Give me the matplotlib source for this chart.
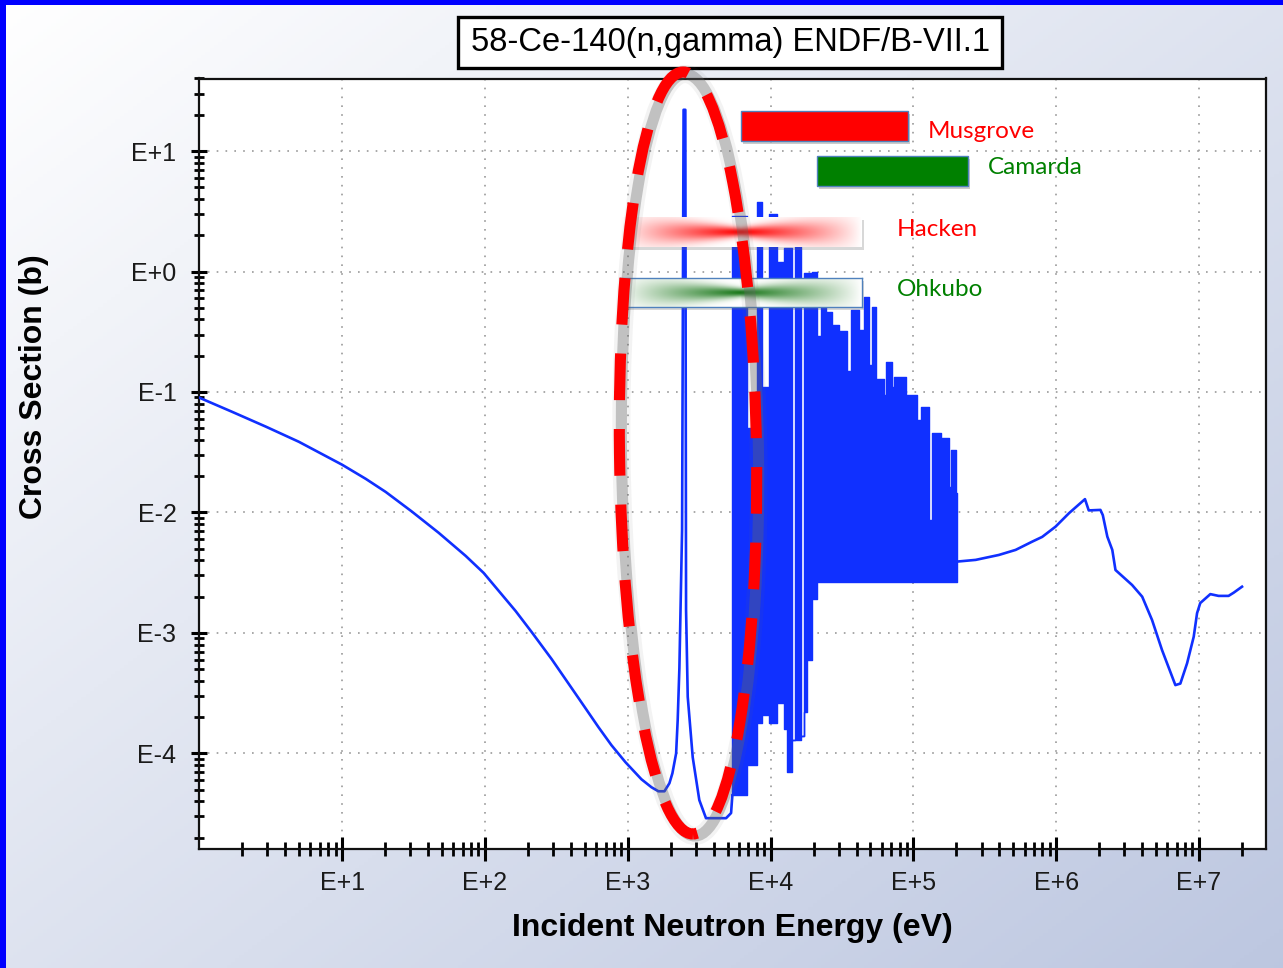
import numpy as np
import matplotlib.pyplot as plt
from matplotlib.patches import Rectangle, Ellipse
from matplotlib.transforms import IdentityTransform
from matplotlib.ticker import FixedLocator, LogLocator, FuncFormatter, NullFormatter

# ---- data (energy in eV, cross section in barns) ----
# smooth part up to the first resolved resonances (incl. the 2.5 keV one)
low_E = [1, 1.69, 2.93, 4.98, 10, 14.65, 20.2, 30.7, 47.5, 73.3, 97.9, 164, 212,
         293, 452, 624, 769, 964, 1247, 1465, 1640, 1806, 1957, 2054, 2181, 2237,
         2299, 2401, 2460, 2530, 2560, 2630, 2850, 3170, 3530, 4880, 5290, 5400]
low_xs = [0.0897, 0.0686, 0.0515, 0.0386, 0.0249, 0.0190, 0.0148, 0.0102, 6.77e-3,
          4.36e-3, 3.15e-3, 1.52e-3, 1.02e-3, 6.07e-4, 2.88e-4, 1.65e-4, 1.17e-4,
          8.45e-5, 6.1e-5, 5.24e-5, 4.85e-5, 4.85e-5, 5.65e-5, 6.84e-5, 1.0e-4,
          1.89e-4, 5.11e-4, 7.17e-3, 22.0, 22.0, 1.55e-3, 2.95e-4, 9.3e-5, 4.1e-5,
          2.9e-5, 2.9e-5, 3.2e-5, 4.5e-5]

# resonance forest: bin edges, upper and lower envelope per bin
forest_E = [5400, 6870, 8070, 8750, 9790, 11140, 12470, 13000, 14190, 14890,
            16400, 17220, 18000, 19590, 21230, 22650, 24550, 27000, 30200,
            34400, 36600, 41700, 45200, 49000, 51400, 54800, 62400, 64400,
            71000, 73300, 88800, 90200, 106000, 113000, 128500, 134800,
            156000, 169000, 177500, 183300, 198600, 202000]
forest_top = [2.9, 0.05, 3.75, 0.111, 2.98, 1.21, 1.58, 1.58, 1.3e-4, 1.61,
              1.4e-4, 0.98, 0.98, 1.0, 0.29, 0.51, 0.465, 0.36, 0.32, 0.148,
              0.48, 0.33, 0.61, 0.169, 0.51, 0.128, 0.095, 0.179, 0.111, 0.134,
              0.0567, 0.095, 0.0589, 0.0755, 0.0087, 0.046, 0.0417, 0.0417,
              0.0163, 0.0331, 0.0146]
forest_bot = [4.5e-5, 8e-5, 1.8e-4, 2.1e-4, 1.8e-4, 2.6e-4, 1.6e-4, 7e-5, 1.3e-4,
              1.3e-4, 1.4e-4, 2.2e-4, 6e-4, 1.9e-3, 2.65e-3, 2.65e-3, 2.65e-3,
              2.65e-3, 2.65e-3, 2.65e-3, 2.65e-3, 2.65e-3, 2.65e-3, 2.65e-3,
              2.65e-3, 2.65e-3, 2.65e-3, 2.65e-3, 2.65e-3, 2.65e-3, 2.65e-3,
              2.65e-3, 2.65e-3, 2.65e-3, 2.65e-3, 2.65e-3, 2.65e-3, 2.65e-3,
              2.65e-3, 2.65e-3, 2.65e-3]

# smooth part above the resonance region
high_E = [2.02e5, 2.73e5, 3.97e5, 5.2e5, 6.8e5, 7.98e5, 9.9e5, 1.23e6, 1.59e6,
          1.69e6, 2.04e6, 2.12e6, 2.28e6, 2.47e6, 2.60e6, 3.40e6, 4.0e6, 4.69e6,
          5.51e6, 6.83e6, 7.4e6, 8.25e6, 9.18e6, 9.69e6, 1.02e7, 1.20e7,
          1.37e7, 1.61e7, 1.75e7, 2.0e7]
high_xs = [3.91e-3, 4.04e-3, 4.44e-3, 4.89e-3, 5.73e-3, 6.27e-3, 7.63e-3,
           9.87e-3, 1.29e-2, 1.04e-2, 1.05e-2, 9.5e-3, 6.3e-3, 4.89e-3, 3.33e-3,
           2.50e-3, 2.0e-3, 1.28e-3, 7.2e-4, 3.69e-4, 3.8e-4, 5.6e-4, 9.3e-4,
           1.46e-3, 1.77e-3, 2.10e-3, 2.03e-3, 2.03e-3, 2.16e-3, 2.42e-3]

x_major = [1e1, 1e2, 1e3, 1e4, 1e5, 1e6, 1e7]
y_major = [1e-4, 1e-3, 1e-2, 1e-1, 1e0, 1e1]

BLUE = '#1030ff'
W, H = 1283, 968

fig = plt.figure(figsize=(W / 100, H / 100), dpi=100)

# slide-like background gradient
bg = fig.add_axes([0, 0, 1, 1], zorder=-10)
gx, gy = np.meshgrid(np.linspace(0, 1, 300), np.linspace(0, 1, 300))
t = ((gx + gy) / 2)[..., None]
img = np.array([1.0, 1.0, 1.0]) * (1 - t) + np.array([0.74, 0.78, 0.88]) * t
bg.imshow(img, extent=[0, 1, 0, 1], aspect='auto', origin='upper')
bg.axis('off')

ax = fig.add_axes([199.3 / W, 1 - 849.3 / H, (1265.7 - 199.3) / W, (849.3 - 78.5) / H])
ax.set_facecolor('white')

ax.plot(low_E, low_xs, color=BLUE, lw=1.9, zorder=3)
ax.fill_between(forest_E, forest_bot + forest_bot[-1:], forest_top + forest_top[-1:],
                step='post', facecolor=BLUE, edgecolor=BLUE, lw=1.0, zorder=3)
ax.plot(high_E, high_xs, color=BLUE, lw=1.9, zorder=3)

ax.set_xscale('log')
ax.set_yscale('log')
ax.set_xlim(1, 2.93e7)
ax.set_ylim(1.6e-5, 40)

fmt = FuncFormatter(lambda v, p: 'E%+d' % round(np.log10(v)))
ax.xaxis.set_major_locator(FixedLocator(x_major))
ax.yaxis.set_major_locator(FixedLocator(y_major))
ax.xaxis.set_minor_locator(LogLocator(base=10, subs=np.arange(2, 10), numticks=50))
ax.yaxis.set_minor_locator(LogLocator(base=10, subs=np.arange(2, 10), numticks=50))
ax.xaxis.set_major_formatter(fmt)
ax.yaxis.set_major_formatter(fmt)
ax.xaxis.set_minor_formatter(NullFormatter())
ax.yaxis.set_minor_formatter(NullFormatter())

ax.grid(which='major', color='#9a9a9a', lw=1.2, ls=(0, (1, 4.3)))
ax.tick_params(axis='x', which='major', direction='inout', length=17, width=2.2,
               pad=7, labelsize=18, labelcolor='#1a1a1a')
ax.tick_params(axis='x', which='minor', direction='inout', length=10, width=2)
ax.tick_params(axis='y', which='major', direction='inout', length=11, width=2.2,
               pad=11, labelsize=18, labelcolor='#1a1a1a')
ax.tick_params(axis='y', which='minor', direction='inout', length=6.5, width=2)
for lab in ax.get_xticklabels() + ax.get_yticklabels():
    lab.set_family('Liberation Sans')
for s in ax.spines.values():
    s.set_linewidth(1.6)
    s.set_color('#111111')

ax.set_xlabel('Incident Neutron Energy (eV)', fontsize=23, fontweight='bold',
              family='Liberation Sans')
ax.set_ylabel('Cross Section (b)', fontsize=23, fontweight='bold',
              family='Liberation Sans')
ax.xaxis.set_label_coords(0.5, -0.083)
ax.yaxis.set_label_coords(-0.141, 0.6)


def px_rect(x0, y0, x1, y1, **kw):
    return Rectangle((x0, H - y1), x1 - x0, y1 - y0, transform=IdentityTransform(), **kw)


# blue slide border (top and left)
fig.add_artist(px_rect(0, 0, W, 5, color='#0000ff', lw=0, zorder=10))
fig.add_artist(px_rect(0, 0, 6, H, color='#0000ff', lw=0, zorder=10))

# title box
fig.add_artist(px_rect(458, 17, 1002, 68, facecolor='white', edgecolor='black', lw=2.4, zorder=4))
fig.text(731 / W, 1 - 43 / H, '58-Ce-140(n,gamma) ENDF/B-VII.1', ha='center', va='center',
         fontsize=23.5, family='Liberation Sans', color='black', zorder=5)

# measurement bars
for (x0, y0, x1, y1, col) in [(741, 111, 908, 141, '#ff0000'), (817, 156, 968, 186, '#008000')]:
    fig.add_artist(px_rect(x0 + 2, y0 + 3, x1 + 2, y1 + 3, facecolor='#555555', alpha=0.3, lw=0, zorder=4))
    fig.add_artist(px_rect(x0, y0, x1, y1, facecolor=col, edgecolor='#4f81bd', lw=1.0, zorder=4))


def grad_bar(x0, y0, x1, y1, rgb, border):
    fig.add_artist(px_rect(x0 + 2, y0 + 3, x1 + 2, y1 + 3, facecolor='#666666', alpha=0.25, lw=0, zorder=4))
    bax = fig.add_axes([x0 / W, 1 - y1 / H, (x1 - x0) / W, (y1 - y0) / H], zorder=4)
    u, v = np.meshgrid(np.linspace(-1, 1, 240), np.linspace(-1, 1, 40))
    s = 0.3 + 0.9 * np.abs(u)
    a = (1 - np.abs(u)) ** 0.9 * np.exp(-(v / s) ** 2)
    a = a[..., None]
    im = np.ones(3) * (1 - a) + np.array(rgb) * a
    bax.imshow(im, aspect='auto', extent=[0, 1, 0, 1])
    bax.set_xticks([])
    bax.set_yticks([])
    for sp in bax.spines.values():
        sp.set_visible(border)
        sp.set_color('#4f81bd')
        sp.set_linewidth(1.0)


grad_bar(620, 217, 862, 247, (1.0, 0.0, 0.0), False)
grad_bar(620, 278, 862, 307, (0.1, 0.47, 0.1), True)

for (x, y, txt, col) in [(928, 131, 'Musgrove', '#ff0000'), (988, 168, 'Camarda', '#008000'),
                         (897, 229, 'Hacken', '#ff0000'), (897, 289, 'Ohkubo', '#008000')]:
    fig.text(x / W, 1 - y / H, txt, color=col, fontsize=17.5, family='Lato',
             ha='left', va='center', zorder=6)

# highlighted region: dashed red ellipse with soft shadow
for lw_, al in [(13, 0.08), (8, 0.35)]:
    fig.add_artist(Ellipse((690, H - 455), 137, 762, angle=0.75, fill=False,
                           edgecolor='#666666', lw=lw_, alpha=al,
                           transform=IdentityTransform(), zorder=7))
fig.add_artist(Ellipse((688, H - 453), 137, 762, angle=0.75, fill=False,
                       edgecolor='#ff0000', lw=8, ls=(3.8, (4.2, 2.6)),
                       capstyle='butt', transform=IdentityTransform(), zorder=8))

fig.savefig('out.png', dpi=100)
